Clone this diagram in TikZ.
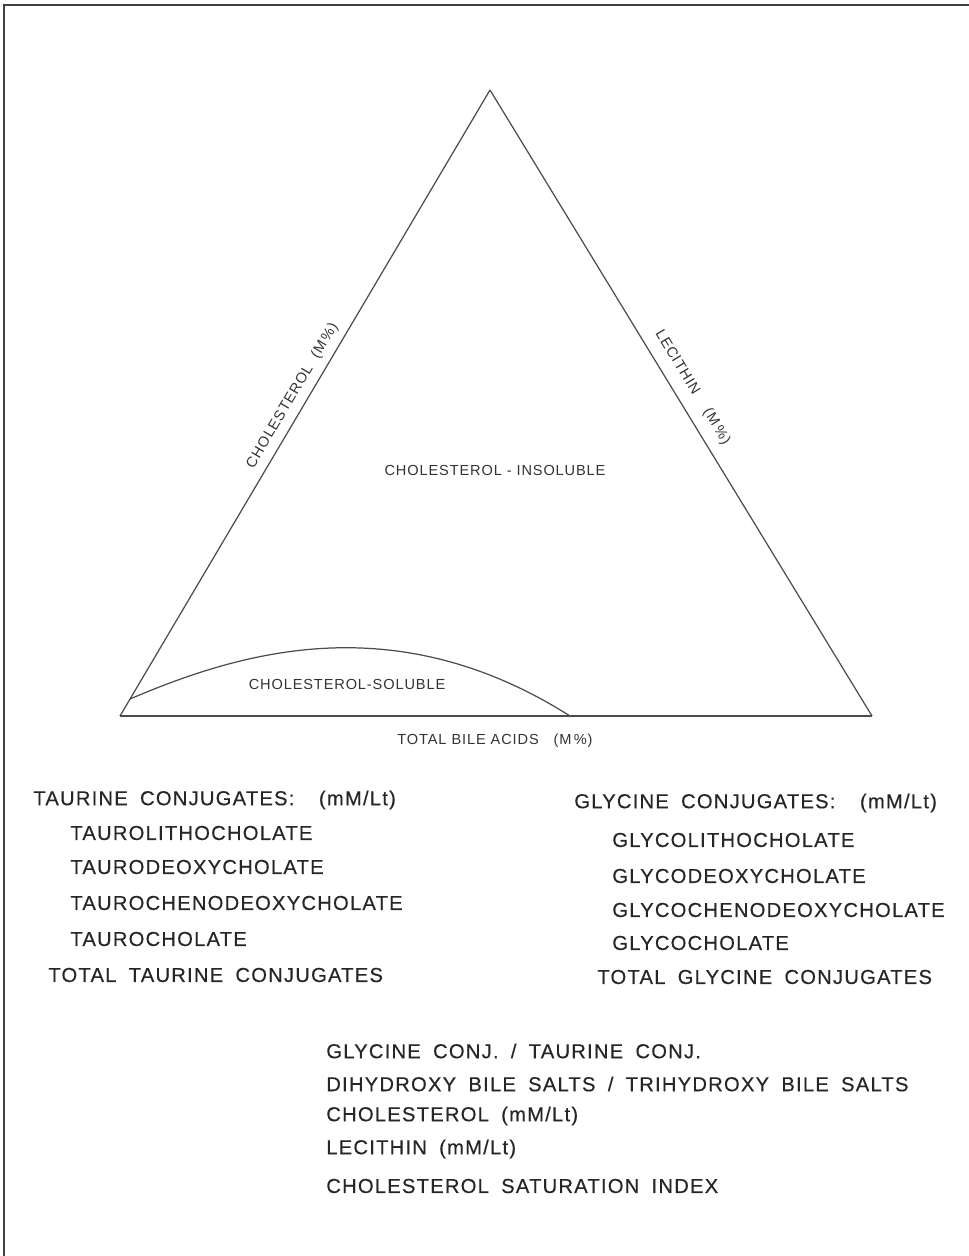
\documentclass[tikz,border=0pt]{standalone}
\usepackage{fontspec}
\newfontfamily\lettering{Liberation Sans}[LetterSpace=6]
\newfontfamily\bigletters{Liberation Sans}[LetterSpace=6, WordSpace=1.8, FakeBold=0.4]
\usetikzlibrary{calc}

\begin{document}
\begin{tikzpicture}[x=0.02cm, y=-0.02cm]
        \tikzset{side/.style = {draw=black!70, line width=0.7pt}}
        \tikzset{small/.style = {font=\lettering\fontsize{8.3}{10}\selectfont, text=black!80, inner sep=1pt}}
        \tikzset{entry/.style = {font=\bigletters\fontsize{11.5}{14}\selectfont, text=black!85, anchor=west, inner sep=0pt}}
        \useasboundingbox (0, 0) rectangle (969, 1256);
        \draw[black!75, line width=1.4pt] (969, 5) -- (4, 5) -- (4, 1256);

        \coordinate (apex) at (490, 90);
        \coordinate (bl) at (120, 716);
        \coordinate (br) at (872, 716);
        \coordinate (s0) at (130, 699);
        \coordinate (s1) at (570, 716);

        \draw[side] (bl) -- (apex) node[small, sloped, above=3pt, pos=0.50] {CHOLESTEROL \ (M\,\%)};
        \draw[side] (apex) -- (br) node[small, sloped, above=5pt, pos=0.49] {LECITHIN \quad (M\,\%)};
        \draw[side] (br) -- (bl);
        \draw[side] (s0) .. controls (240, 652) and (395, 605) .. (s1);

        \node[small] (insol) at (495, 470) {CHOLESTEROL - INSOLUBLE};
        \node[small] (sol) at (347, 684) {CHOLESTEROL-SOLUBLE};
        \node[small] (tba) at (495, 741) {TOTAL BILE ACIDS \ \ (M\,\%)};

        \node[entry] (tau) at (33, 800) {TAURINE CONJUGATES: \ (mM/Lt)};
        \node[entry] (tau1) at (70, 833) {TAUROLITHOCHOLATE};
        \node[entry] (tau2) at (70, 867) {TAURODEOXYCHOLATE};
        \node[entry] (tau3) at (70, 903) {TAUROCHENODEOXYCHOLATE};
        \node[entry] (tau4) at (70, 939) {TAUROCHOLATE};
        \node[entry] (tau5) at (48, 975) {TOTAL TAURINE CONJUGATES};

        \node[entry] (gly) at (574, 803) {GLYCINE CONJUGATES: \ (mM/Lt)};
        \node[entry] (gly1) at (612, 840) {GLYCOLITHOCHOLATE};
        \node[entry] (gly2) at (612, 876) {GLYCODEOXYCHOLATE};
        \node[entry] (gly3) at (612, 910) {GLYCOCHENODEOXYCHOLATE};
        \node[entry] (gly4) at (612, 943) {GLYCOCHOLATE};
        \node[entry] (gly5) at (597, 977) {TOTAL GLYCINE CONJUGATES};

        \node[entry] (ratio1) at (326, 1051) {GLYCINE CONJ. / TAURINE CONJ.};
        \node[entry] (ratio2) at (326, 1084) {DIHYDROXY BILE SALTS / TRIHYDROXY BILE SALTS};
        \node[entry] (chol) at (326, 1116) {CHOLESTEROL (mM/Lt)};
        \node[entry] (lec) at (326, 1149) {LECITHIN (mM/Lt)};
        \node[entry] (csi) at (326, 1186) {CHOLESTEROL SATURATION INDEX};
      \end{tikzpicture}
\end{document}
